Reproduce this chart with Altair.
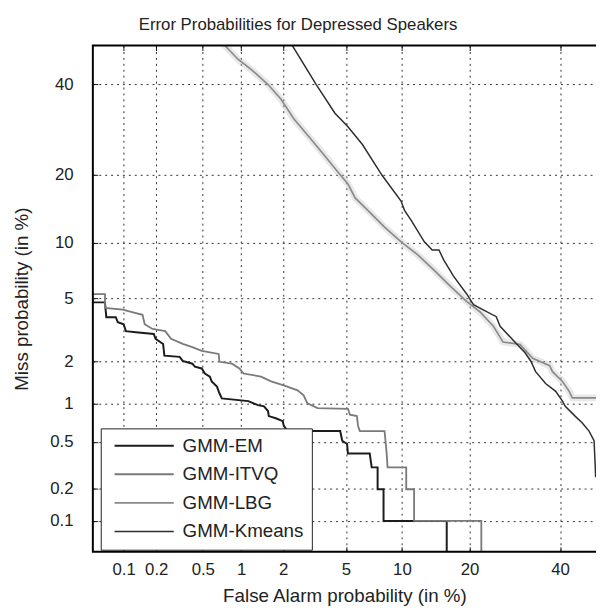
import altair as alt
import pandas as pd
from statistics import NormalDist

# ---------------- data (percent values) ----------------
series_names = ["GMM-EM", "GMM-ITVQ", "GMM-LBG", "GMM-Kmeans"]

fa_em = [0.04, 0.066, 0.068, 0.084, 0.088, 0.10, 0.105, 0.13, 0.19, 0.197, 0.23, 0.236,
         0.32, 0.34, 0.41, 0.43, 0.49, 0.52, 0.57, 0.59, 0.65, 0.68, 0.71, 1.13, 1.33,
         1.47, 1.57, 1.59, 1.78, 1.99, 2.02, 2.15, 4.62, 4.75, 5.07, 5.13, 6.8, 6.97,
         7.5, 7.5, 8.06, 8.06, 16.1, 16.1]
miss_em = [4.75, 4.75, 3.87, 3.87, 3.6, 3.5, 3.17, 3.12, 3.04, 2.83, 2.62, 2.19,
           2.15, 2.02, 1.93, 1.84, 1.79, 1.65, 1.57, 1.45, 1.33, 1.19, 1.09, 1.04, 0.97,
           0.95, 0.875, 0.80, 0.77, 0.73, 0.67, 0.61, 0.61, 0.51, 0.48, 0.40, 0.40, 0.305,
           0.305, 0.196, 0.196, 0.1, 0.1, 0.03]

fa_itvq = [0.04, 0.066, 0.066, 0.098, 0.12, 0.15, 0.157, 0.185, 0.24, 0.27, 0.34, 0.41,
           0.49, 0.67, 0.68, 0.85, 0.97, 1.04, 1.40, 1.65, 2.02, 2.5, 2.74, 2.9, 3.36,
           5.13, 5.27, 5.77, 5.86, 6.0, 8.16, 8.36, 8.46, 10.5, 10.5, 11.46, 11.46, 22.2, 22.2]
miss_itvq = [5.3, 5.3, 4.4, 4.3, 4.15, 4.0, 3.5, 3.27, 3.17, 2.83, 2.62, 2.5,
             2.36, 2.25, 1.99, 1.93, 1.79, 1.65, 1.57, 1.45, 1.36, 1.25, 1.15, 1.0, 0.92,
             0.91, 0.82, 0.80, 0.67, 0.61, 0.61, 0.41, 0.305, 0.305, 0.196, 0.196, 0.1, 0.1, 0.03]

fa_lbg = [0.72, 0.75, 0.95, 1.19, 1.57, 1.93, 2.36, 3.03, 3.66, 4.44, 5.13, 5.64, 6.64,
          8.16, 9.94, 11.9, 14.2, 16.75, 19.5, 22.0, 24.6, 26.0, 26.6, 30.4, 33.3, 37.4,
          38.1, 40.6, 42.3, 43.1, 52.0]
miss_lbg = [51, 50, 46.4, 43.8, 40, 36.4, 31.7, 27.3, 24.0, 20.7, 18.4, 16.1, 14.2,
            11.9, 10.06, 8.7, 7.2, 5.86, 4.8, 4.15, 3.4, 2.9, 2.7, 2.6, 2.1, 1.87,
            1.7, 1.45, 1.23, 1.1, 1.1]

fa_km = [2.25, 2.31, 3.3, 4.3, 5.1, 6.2, 7.9, 9.9, 10.3, 11.1, 12.8, 13.9, 14.9, 15.6,
         17.2, 19.5, 20.7, 25.2, 26.0, 29.2, 31.5, 32.9, 34.0, 36.4, 38.9, 40.6, 41.3,
         43.8, 45.6, 47.4, 48.7, 49.0, 49.1]
miss_km = [51, 50, 40, 33, 30, 26, 20, 15.6, 14.2, 12.8, 10.1, 9.2, 9.2, 8.2,
           6.7, 5.3, 4.6, 3.9, 3.4, 2.7, 2.3, 2.0, 1.7, 1.4, 1.23, 1.04, 0.95,
           0.80, 0.71, 0.61, 0.51, 0.31, 0.25]

tick_pct = [0.1, 0.2, 0.5, 1, 2, 5, 10, 20, 40]
tick_labels = ["0.1", "0.2", "0.5", "1", "2", "5", "10", "20", "40"]

# axis limits (percent): both axes run from 0.05 % to 50 % (x is cropped at ~49.2 %)
x_lim_pct = [0.05, 49.2]
y_lim_pct = [0.05, 50.0]
frame_pct = [0.05, 50.0]

series_colors = ["#1c1c1c", "#7a7a7a", "#8a8a8a", "#2e2e2e"]
series_widths = [2.0, 1.5, 2.6, 1.6]

# ---------------- build table (normal-deviate transform) ----------------
nd = NormalDist()


def z(p):
    return nd.inv_cdf(p / 100.0)


rows = []
for name, fa, miss in [("GMM-EM", fa_em, miss_em), ("GMM-ITVQ", fa_itvq, miss_itvq),
                       ("GMM-LBG", fa_lbg, miss_lbg), ("GMM-Kmeans", fa_km, miss_km)]:
    for i, (f, m) in enumerate(zip(fa, miss)):
        rows.append({"series": name, "i": i, "fa": f, "miss": m,
                     "fa_z": z(f), "miss_z": z(m)})
df = pd.DataFrame(rows)

frame_df = pd.DataFrame([{"x0": z(frame_pct[0]), "x1": z(frame_pct[1]),
                          "y0": z(frame_pct[0]), "y1": z(frame_pct[1])}])

tick_z = [z(p) for p in tick_pct]
label_expr = ""
for tz, lab in zip(tick_z, tick_labels):
    label_expr += f"abs(datum.value - ({tz:.6f})) < 0.001 ? '{lab}' : "
label_expr += "''"

x_dom = [z(x_lim_pct[0]), z(x_lim_pct[1])]
y_dom = [z(y_lim_pct[0]), z(y_lim_pct[1])]

FONT = "Liberation Sans"
TXT = "#222222"

xscale = alt.Scale(domain=x_dom, nice=False, zero=False)
yscale = alt.Scale(domain=y_dom, nice=False, zero=False)

legend = alt.Legend(
    title=None, orient="none", legendX=8, legendY=388,
    fillColor="white", strokeColor="#222222", padding=8,
    symbolType="stroke", symbolSize=3600, symbolOffset=5,
    labelOffset=8, labelFontSize=19, labelFont=FONT, labelColor=TXT,
    clipHeight=19, rowPadding=9,
)

lines = alt.Chart(df).mark_line(clip=True, strokeCap="butt").encode(
    x=alt.X("fa_z:Q", scale=xscale, axis=alt.Axis(
        orient="bottom", values=tick_z, labelExpr=label_expr, offset=-5, tickSize=5,
        tickColor="#111", domain=False, grid=True, gridDash=[2, 4], gridColor="#333",
        gridWidth=1, labelFontSize=17, labelFont=FONT, labelColor=TXT, labelPadding=10,
        labelOverlap=False, labelFlush=False,
        title="False Alarm probability (in %)", titleFontSize=19, titleFont=FONT,
        titleColor=TXT, titleFontWeight="normal", titlePadding=9)),
    y=alt.Y("miss_z:Q", scale=yscale, axis=alt.Axis(
        orient="left", values=tick_z, labelExpr=label_expr, offset=-5, tickSize=5,
        tickColor="#111", domain=False, grid=True, gridDash=[2, 4], gridColor="#333",
        gridWidth=1, labelFontSize=17, labelFont=FONT, labelColor=TXT, labelPadding=20,
        labelOverlap=False, labelFlush=False,
        title="Miss probability (in %)", titleFontSize=19, titleFont=FONT,
        titleColor=TXT, titleFontWeight="normal", titlePadding=19)),
    color=alt.Color("series:N", scale=alt.Scale(domain=series_names, range=series_colors),
                    legend=legend),
    strokeWidth=alt.StrokeWidth("series:N", scale=alt.Scale(domain=series_names,
                                                           range=series_widths),
                                legend=legend),
    order=alt.Order("i:Q"),
)

halo = alt.Chart(df).transform_filter(
    alt.datum.series == "GMM-LBG"
).mark_line(clip=True, color="#bdbdbd", strokeWidth=7, opacity=0.35).encode(
    x=alt.X("fa_z:Q", scale=xscale, axis=alt.Axis(
        orient="top", values=tick_z, labels=False, offset=-5, tickSize=5,
        tickColor="#111", domain=False, grid=False, title=None)),
    y=alt.Y("miss_z:Q", scale=yscale, axis=None),
    order=alt.Order("i:Q"),
)

frame = alt.Chart(frame_df).mark_rect(fillOpacity=0, stroke="#000000", strokeWidth=2,
                                      strokeOpacity=1, clip=False).encode(
    x=alt.X("x0:Q", scale=xscale, axis=None),
    x2="x1:Q",
    y=alt.Y("y0:Q", scale=yscale, axis=None),
    y2="y1:Q",
)

chart = alt.layer(halo, lines, frame).resolve_axis(
    x="independent", y="independent"
).properties(
    width=510, height=513,
    autosize=alt.AutoSizeParams(type="none"),
    padding={"left": 86, "top": 34, "right": 0, "bottom": 55},
    background="white",
    title=alt.TitleParams(
        "Error Probabilities for Depressed Speakers", fontSize=17, font=FONT,
        color=TXT, fontWeight="normal", anchor="middle", dx=-47, offset=11),
).configure_view(strokeWidth=0)

chart.save("out.html", embed_options={"renderer": "svg", "actions": False})
